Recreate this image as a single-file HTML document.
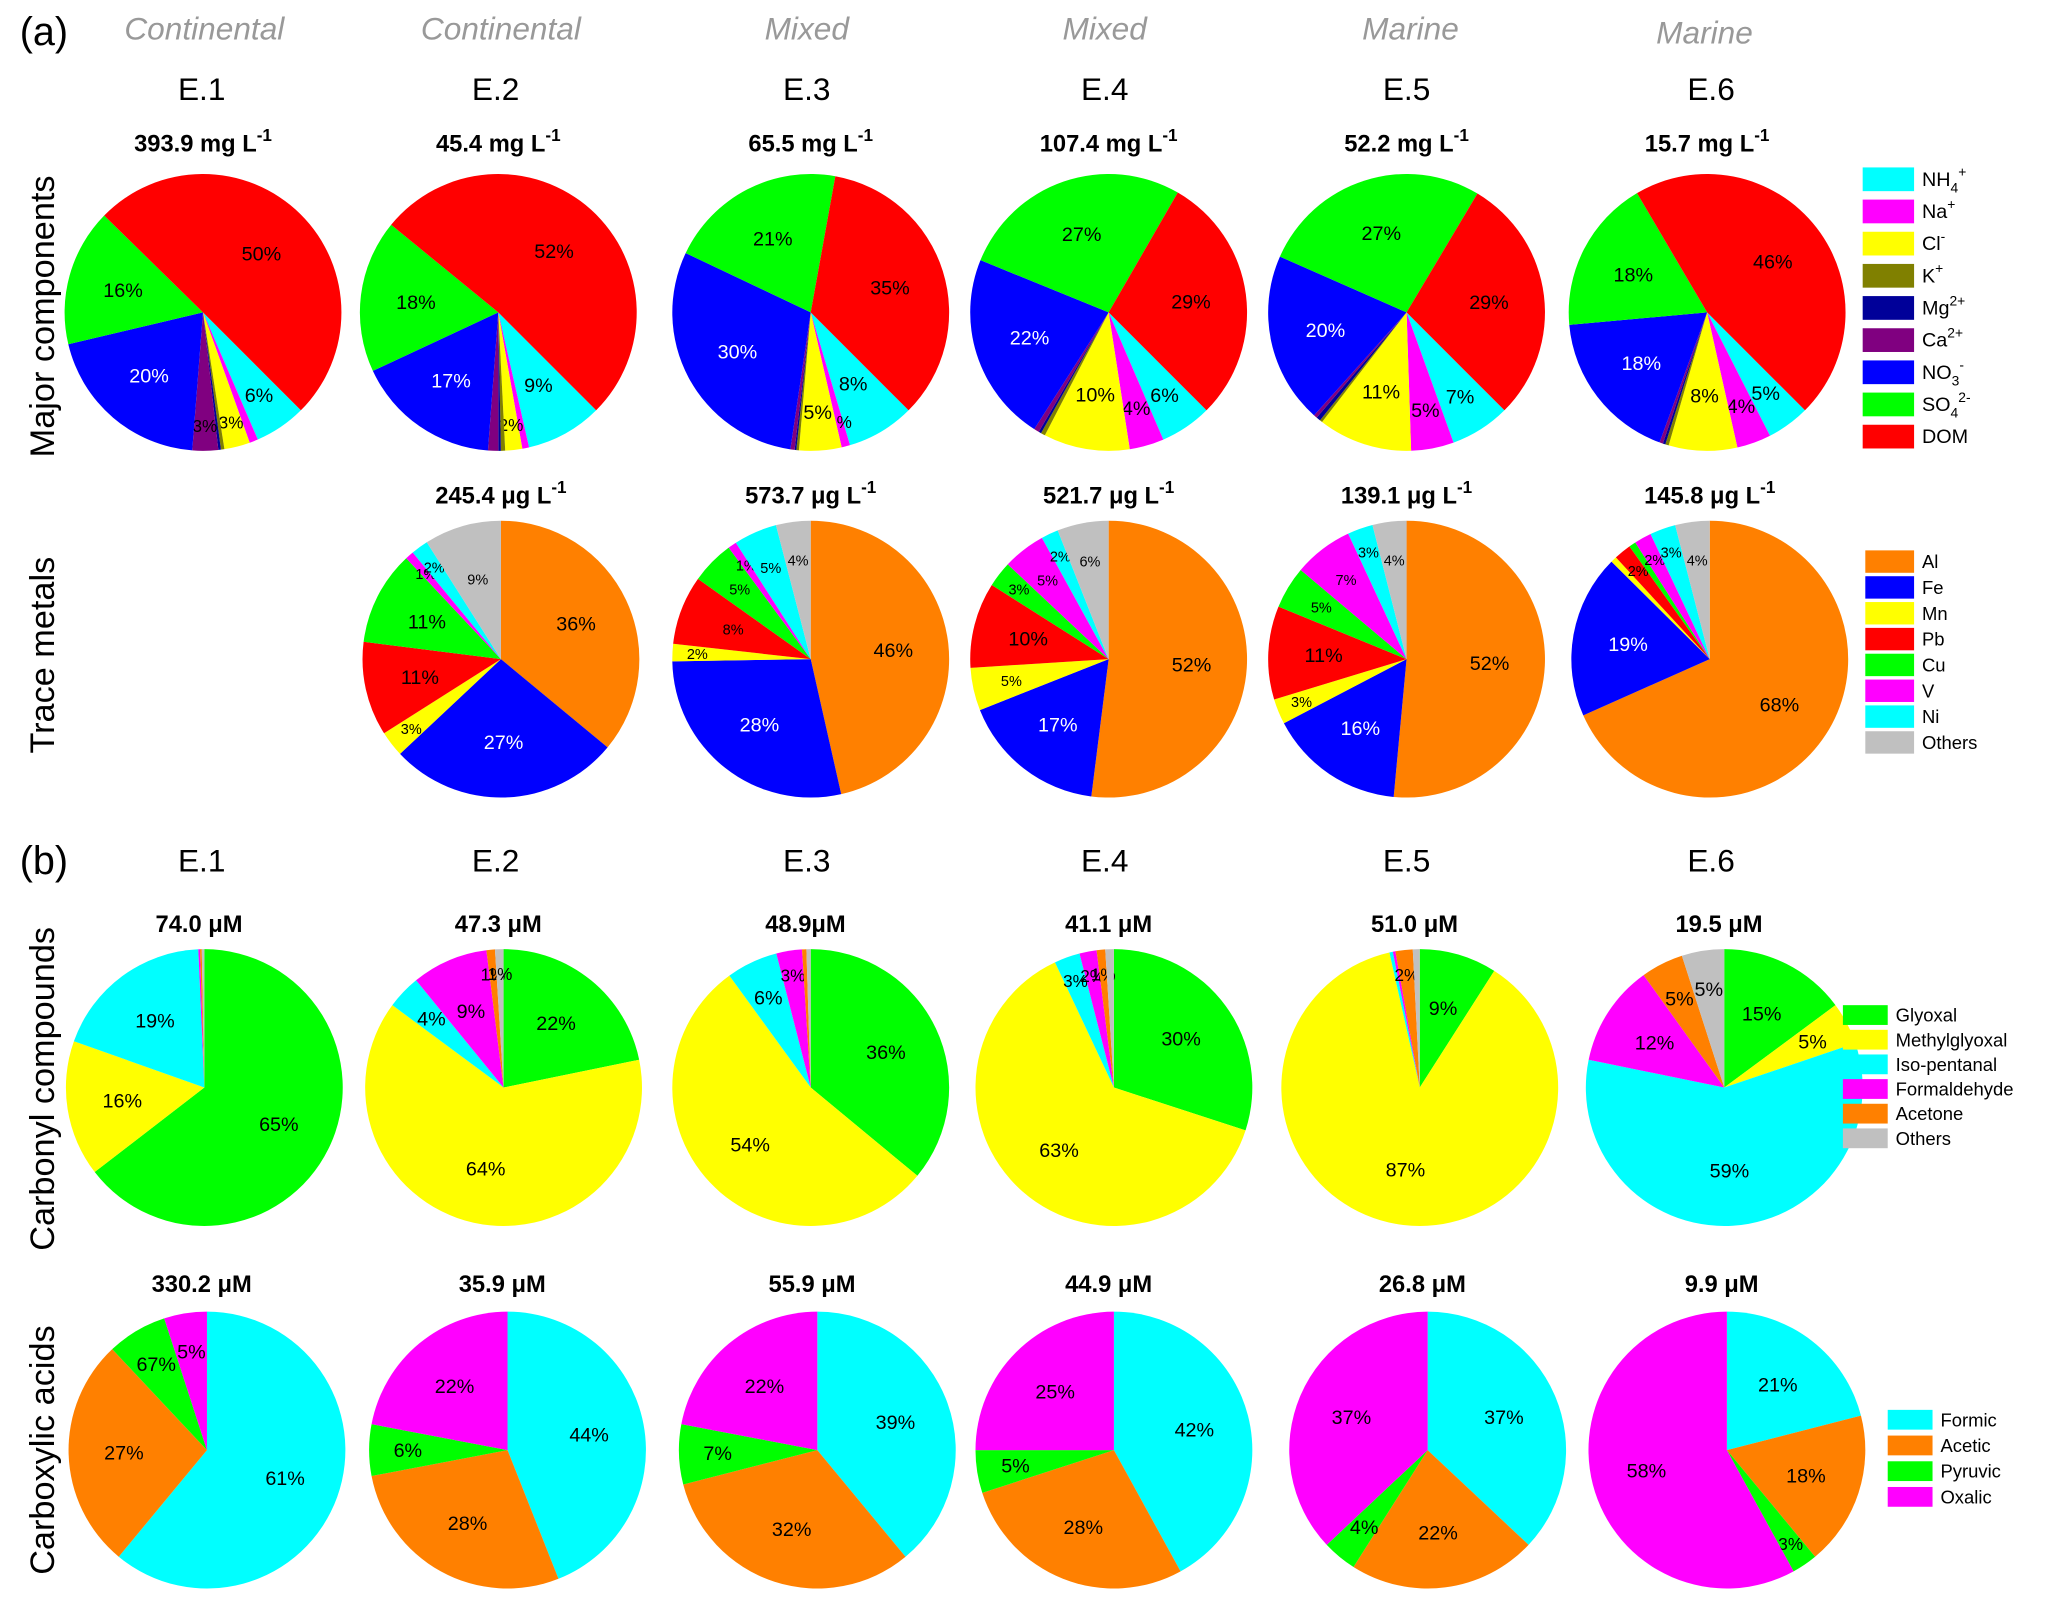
<!DOCTYPE html>
<html><head><meta charset="utf-8"><style>
html,body{margin:0;padding:0;background:#fff}
svg{display:block}
text{font-family:"Liberation Sans",Arial,sans-serif}
.n{font-family:"Liberation Sans Narrow","Liberation Sans",sans-serif}
</style></head><body>
<svg id="fig" xmlns="http://www.w3.org/2000/svg" width="2067" height="1603" viewBox="0 0 1568 1216">
<g id="static">
<text x="15" y="34" font-size="30">(a)</text>
<text x="15" y="663" font-size="30">(b)</text>
<g fill="#999" font-style="italic" font-size="24" text-anchor="middle" class="n">
<text x="155" y="30" class="n">Continental</text>
<text x="380" y="30" class="n">Continental</text>
<text x="612" y="30" class="n">Mixed</text>
<text x="838" y="30" class="n">Mixed</text>
<text x="1070" y="30" class="n">Marine</text>
<text x="1293" y="33" class="n">Marine</text>
</g>
<g font-size="24" text-anchor="middle">
<text x="153" y="76">E.1</text>
<text x="376" y="76">E.2</text>
<text x="612" y="76">E.3</text>
<text x="838" y="76">E.4</text>
<text x="1067" y="76">E.5</text>
<text x="1298" y="76">E.6</text>
<text x="153" y="661">E.1</text>
<text x="376" y="661">E.2</text>
<text x="612" y="661">E.3</text>
<text x="838" y="661">E.4</text>
<text x="1067" y="661">E.5</text>
<text x="1298" y="661">E.6</text>
</g>
<g font-size="26">
<text transform="translate(41,240) rotate(-90)" text-anchor="middle">Major components</text>
<text transform="translate(41,497) rotate(-90)" text-anchor="middle">Trace metals</text>
<text transform="translate(41,826) rotate(-90)" text-anchor="middle">Carbonyl compounds</text>
<text transform="translate(41,1100) rotate(-90)" text-anchor="middle">Carboxylic acids</text>
</g>
</g>
<g id="pies"></g>
<g id="legends"></g>
</svg>
<script>
// ---- data ----
const majorCategories = ["NH4+","Na+","Cl-","K+","Mg2+","Ca2+","NO3-","SO42-","DOM"];
const majorColors = ["#00ffff","#ff00ff","#ffff00","#808000","#000099","#800080","#0000ff","#00ff00","#ff0000"];
const majorTotals = ["393.9 mg L","45.4 mg L","65.5 mg L","107.4 mg L","52.2 mg L","15.7 mg L"];
const majorE1 = [6,1,3,0.4,0.3,3,20,16,50];
const majorE2 = [9,0.8,2,0.5,0.3,1.2,17,18,52];
const majorE3 = [8,1,5,0.3,0.2,0.5,30,21,35];
const majorE4 = [6,4,10,0.5,0.3,0.6,22,27,29];
const majorE5 = [7,5,11,0.3,0.5,0.4,20,27,29];
const majorE6 = [5,4,8,0.4,0.3,0.4,18,18,46];
const majorLabelsE1 = ["6%","","3%","","","3%","20%","16%","50%"];
const majorLabelsE2 = ["9%","","2%","","","","17%","18%","52%"];
const majorLabelsE3 = ["8%","1%","5%","","","","30%","21%","35%"];
const majorLabelsE4 = ["6%","4%","10%","","","","22%","27%","29%"];
const majorLabelsE5 = ["7%","5%","11%","","","","20%","27%","29%"];
const majorLabelsE6 = ["5%","4%","8%","","","","18%","18%","46%"];

const traceCategories = ["Al","Fe","Mn","Pb","Cu","V","Ni","Others"];
const traceColors = ["#ff8000","#0000ff","#ffff00","#ff0000","#00ff00","#ff00ff","#00ffff","#c0c0c0"];
const traceTotals = ["245.4 μg L","573.7 μg L","521.7 μg L","139.1 μg L","145.8 μg L"];
const traceE2 = [36,27,3,11,11,1,2,9];
const traceE3 = [46,28,2,8,5,1,5,4];
const traceE4 = [52,17,5,10,3,5,2,6];
const traceE5 = [52,16,3,11,5,7,3,4];
const traceE6 = [68,19,0.7,2,0.8,2,3,4];
const traceLabelsE2 = ["36%","27%","3%","11%","11%","1%","2%","9%"];
const traceLabelsE3 = ["46%","28%","2%","8%","5%","1%","5%","4%"];
const traceLabelsE4 = ["52%","17%","5%","10%","3%","5%","2%","6%"];
const traceLabelsE5 = ["52%","16%","3%","11%","5%","7%","3%","4%"];
const traceLabelsE6 = ["68%","19%","","2%","","2%","3%","4%"];

const carbonylCategories = ["Glyoxal","Methylglyoxal","Iso-pentanal","Formaldehyde","Acetone","Others"];
const carbonylColors = ["#00ff00","#ffff00","#00ffff","#ff00ff","#ff8000","#c0c0c0"];
const carbonylTotals = ["74.0 μM","47.3 μM","48.9μM","41.1 μM","51.0 μM","19.5 μM"];
const carbonylE1 = [65,16,19,0.2,0.2,0.3];
const carbonylE2 = [22,64,4,9,1,1];
const carbonylE3 = [36,54,6,3,0.5,0.5];
const carbonylE4 = [30,63,3,2,1,1];
const carbonylE5 = [9,87,0.4,0.3,2,0.8];
const carbonylE6 = [15,5,59,12,5,5];
const carbonylLabelsE1 = ["65%","16%","19%","","",""];
const carbonylLabelsE2 = ["22%","64%","4%","9%","1%","1%"];
const carbonylLabelsE3 = ["36%","54%","6%","3%","",""];
const carbonylLabelsE4 = ["30%","63%","3%","2%","1%",""];
const carbonylLabelsE5 = ["9%","87%","","","2%",""];
const carbonylLabelsE6 = ["15%","5%","59%","12%","5%","5%"];

const acidCategories = ["Formic","Acetic","Pyruvic","Oxalic"];
const acidColors = ["#00ffff","#ff8000","#00ff00","#ff00ff"];
const acidTotals = ["330.2 μM","35.9 μM","55.9 μM","44.9 μM","26.8 μM","9.9 μM"];
const acidE1 = [61,27,7,5];
const acidE2 = [44,28,6,22];
const acidE3 = [39,32,7,22];
const acidE4 = [42,28,5,25];
const acidE5 = [37,22,4,37];
const acidE6 = [21,18,3,58];
const acidLabelsE1 = ["61%","27%","67%","5%"];
const acidLabelsE2 = ["44%","28%","6%","22%"];
const acidLabelsE3 = ["39%","32%","7%","22%"];
const acidLabelsE4 = ["42%","28%","5%","25%"];
const acidLabelsE5 = ["37%","22%","4%","37%"];
const acidLabelsE6 = ["21%","18%","3%","58%"];

// ---- drawing ----
const NS = "http://www.w3.org/2000/svg";
const pies = document.getElementById("pies");
const legends = document.getElementById("legends");
function mk(tag, attrs, parent){const e=document.createElementNS(NS,tag);for(const k in attrs)e.setAttribute(k,attrs[k]);parent.appendChild(e);return e;}
function pt(cx,cy,r,deg){const a=deg*Math.PI/180;return [cx+r*Math.sin(a),cy-r*Math.cos(a)];}

function drawPie(name, cx, cy, r, values, labels, colors, startDeg, whiteIdx, smallFont){
  const g = mk("g",{},pies);
  
  
  const total = values.reduce((a,b)=>a+b,0);
  let ang = startDeg;
  values.forEach((v,i)=>{
    const sweep = v/total*360;
    const p0 = pt(cx,cy,r,ang), p1 = pt(cx,cy,r,ang+sweep);
    const large = sweep>180?1:0;
    const path = mk("path",{d:`M${cx},${cy} L${p0[0]},${p0[1]} A${r},${r} 0 ${large} 1 ${p1[0]},${p1[1]} Z`,fill:colors[i]},g);
    
    
    if(labels[i]){
      const mid = ang+sweep/2;
      const rf = v>=8?0.6:(v>=4?0.72:0.82);
      const lp = pt(cx,cy,r*rf,mid);
      const fs = (v<4||smallFont)&&v<10 ? (smallFont?11:13) : 15;
      const t = mk("text",{x:lp[0],y:lp[1]+fs*0.35,"text-anchor":"middle","font-size":fs,fill:i===whiteIdx?"#fff":"#000"},g);
      
      
      t.textContent = labels[i];
    }
    ang += sweep;
  });
}
function drawTotal(name, x, y, txt, sup){
  const t = mk("text",{x:x,y:y,"text-anchor":"middle","font-size":18,"font-weight":"bold",class:"n"},pies);
  
  
  t.textContent = txt;
  if(sup){const s=mk("tspan",{dy:-8,"font-size":13},t);s.textContent="-1";}
}

const majorSets=[majorE1,majorE2,majorE3,majorE4,majorE5,majorE6];
const majorLabs=[majorLabelsE1,majorLabelsE2,majorLabelsE3,majorLabelsE4,majorLabelsE5,majorLabelsE6];
const majorCx=[154,378,615,841,1067,1295];
majorSets.forEach((d,i)=>{drawPie("major-pie-e"+(i+1),majorCx[i],237,105,d,majorLabs[i],majorColors,135,6,false);drawTotal("major-total-e"+(i+1),majorCx[i],115,majorTotals[i],true);});

const traceSets=[traceE2,traceE3,traceE4,traceE5,traceE6];
const traceLabs=[traceLabelsE2,traceLabelsE3,traceLabelsE4,traceLabelsE5,traceLabelsE6];
const traceCx=[380,615,841,1067,1297];
traceSets.forEach((d,i)=>{drawPie("trace-pie-e"+(i+2),traceCx[i],500,105,d,traceLabs[i],traceColors,0,1,true);drawTotal("trace-total-e"+(i+2),traceCx[i],382,traceTotals[i],true);});

const carbSets=[carbonylE1,carbonylE2,carbonylE3,carbonylE4,carbonylE5,carbonylE6];
const carbLabs=[carbonylLabelsE1,carbonylLabelsE2,carbonylLabelsE3,carbonylLabelsE4,carbonylLabelsE5,carbonylLabelsE6];
const carbCx=[155,382,615,845,1077,1308];
carbSets.forEach((d,i)=>{drawPie("carbonyl-pie-e"+(i+1),carbCx[i],825,105,d,carbLabs[i],carbonylColors,0,-1,false);drawTotal("carbonyl-total-e"+(i+1),carbCx[i]-4,707,carbonylTotals[i],false);});

const acidSets=[acidE1,acidE2,acidE3,acidE4,acidE5,acidE6];
const acidLabs=[acidLabelsE1,acidLabelsE2,acidLabelsE3,acidLabelsE4,acidLabelsE5,acidLabelsE6];
const acidCx=[157,385,620,845,1083,1310];
acidSets.forEach((d,i)=>{drawPie("carboxylic-pie-e"+(i+1),acidCx[i],1100,105,d,acidLabs[i],acidColors,0,-1,false);drawTotal("carboxylic-total-e"+(i+1),acidCx[i]-4,980,acidTotals[i],false);});

// legends
function legend(name, x, y0, step, w, h, colors, labels, fs){
  const g = mk("g",{},legends);
  
  
  labels.forEach((lab,i)=>{
    const y = y0+i*step;
    const r = mk("rect",{x:x,y:y-h/2,width:w,height:h,fill:colors[i]},g);
    
    
    const t = mk("text",{x:x+w+6,y:y+5,"font-size":fs},g);
    
    
    if(Array.isArray(lab)){
      const a=mk("tspan",{},t);a.textContent=lab[0];
      if(lab[1]){const b=mk("tspan",{dy:5,"font-size":fs*0.7},t);b.textContent=lab[1];}
      if(lab[2]){const c=mk("tspan",{dy:lab[1]?-12:-7,"font-size":fs*0.7},t);c.textContent=lab[2];}
    } else t.textContent=lab;
  });
}
legend("legend-major",1413,136,24.4,39,18,majorColors,[["NH","4","+"],["Na","","+"],["Cl","","-"],["K","","+"],["Mg","","2+"],["Ca","","2+"],["NO","3","-"],["SO","4","2-"],"DOM"],15);
legend("legend-trace",1415,426,19.6,37,17,traceColors,traceCategories,14);
legend("legend-carbonyl",1398,770,18.7,34,15,carbonylColors,carbonylCategories,14);
legend("legend-carboxylic",1432,1077,19.5,34,15,acidColors,acidCategories,14);
</script>
</body></html>
